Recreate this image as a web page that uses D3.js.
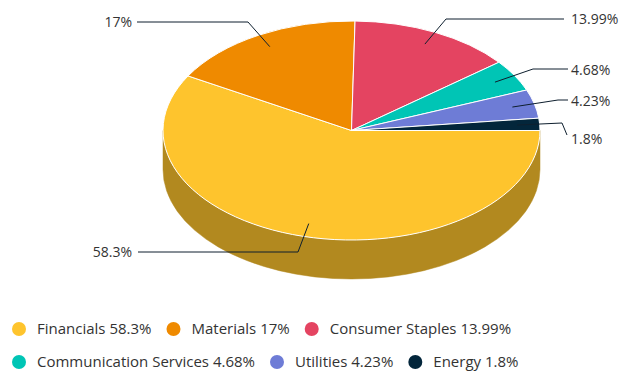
<!DOCTYPE html>
<html>
<head>
<meta charset="utf-8">
<script src="https://cdn.jsdelivr.net/npm/d3@7"></script>
<style>
    body { margin: 0; background: #ffffff; }
    svg { display: block; font-family: "Open Sans", "Noto Sans", sans-serif; }
</style>
</head>
<body>
<svg id="chart" width="621" height="371"></svg>
<script>
const sectors = ["Financials", "Materials", "Consumer Staples", "Communication Services", "Utilities", "Energy"];
const shares = [58.3, 17, 13.99, 4.68, 4.23, 1.8];
const labelTexts = ["58.3%", "17%", "13.99%", "4.68%", "4.23%", "1.8%"];
const topColors = ["#fec42d", "#ef8a00", "#e44461", "#00c5b5", "#6e7cd6", "#03263b"];

// label placement (text centre y, bend point of the connector, line end next to the text)
const labelLayout = [
    { side: "left", y: 252, bend: [298, 252], end: [138, 252] },
    { side: "left", y: 22, bend: [248, 22], end: [137, 22] },
    { side: "right", y: 19, bend: [446, 19], end: [564, 19] },
    { side: "right", y: 70, bend: [533, 69], end: [568, 69] },
    { side: "right", y: 101, bend: [558, 100], end: [568, 100] },
    { side: "right", y: 139, bend: [562, 123], end: [567, 135] }
];

const svg = d3.select("#chart");
const cx = 351.5, cy = 130.5, rx = 188.5, ry = 109.5, depth = 39;

const data = sectors.map(function (s, i) {
    return { name: s, value: shares[i], label: labelTexts[i], color: topColors[i], layout: labelLayout[i] };
});

const pie = d3.pie()
    .sort(null)
    .value(function (d) { return d.value; })
    .startAngle(Math.PI / 2)
    .endAngle(Math.PI / 2 + Math.PI * 2);
const arcs = pie(data);

function pt(a, k, dy) {
    k = k || 1;
    dy = dy || 0;
    return [cx + rx * k * Math.sin(a), cy - ry * k * Math.cos(a) + dy];
}

function topPath(d) {
    const p0 = pt(d.startAngle), p1 = pt(d.endAngle);
    const large = d.endAngle - d.startAngle > Math.PI ? 1 : 0;
    return `M${cx},${cy}L${p0[0]},${p0[1]}A${rx},${ry} 0 ${large} 1 ${p1[0]},${p1[1]}Z`;
}

function sidePath(d) {
    const s = Math.max(d.startAngle, Math.PI / 2);
    const e = Math.min(d.endAngle, Math.PI * 1.5);
    if (e <= s) return null;
    const a = pt(s), b = pt(e), c = pt(e, 1, depth), f = pt(s, 1, depth);
    return `M${a[0]},${a[1]}A${rx},${ry} 0 0 1 ${b[0]},${b[1]}L${c[0]},${c[1]}A${rx},${ry} 0 0 0 ${f[0]},${f[1]}Z`;
}

const pieGroup = svg.append("g");

pieGroup.selectAll(".side")
    .data(arcs.filter(function (d) { return sidePath(d) !== null; }))
    .join("path")
    .attr("class", "side")
    .attr("d", sidePath)
    .attr("fill", function (d) { return d3.color(d.data.color).darker(1); })
    .attr("stroke", function (d) { return d3.color(d.data.color).darker(1); })
    .attr("stroke-width", 0.5);

pieGroup.selectAll(".top")
    .data(arcs)
    .join("path")
    .attr("class", "top")
    .attr("d", topPath)
    .attr("fill", function (d) { return d.data.color; })
    .attr("stroke", "#ffffff")
    .attr("stroke-width", 1)
    .attr("stroke-linejoin", "round");

// connectors and data labels
const labelGroup = svg.append("g");
arcs.forEach(function (d) {
    const mid = (d.startAngle + d.endAngle) / 2;
    const anchor = pt(mid, 0.88);
    const lay = d.data.layout;
    labelGroup.append("path")
        .attr("d", d3.line()([anchor, lay.bend, lay.end]))
        .attr("fill", "none")
        .attr("stroke", "#0e1f2e")
        .attr("stroke-width", 1);
    labelGroup.append("text")
        .attr("x", lay.side === "left" ? 132 : 571)
        .attr("y", lay.y)
        .attr("dy", "0.35em")
        .attr("text-anchor", lay.side === "left" ? "end" : "start")
        .attr("font-size", "14px")
        .attr("fill", "#333333")
        .text(d.data.label);
});

// legend
const legend = svg.append("g");
let lx = 12, ly = 329;
data.forEach(function (d) {
    const item = legend.append("g");
    item.append("circle")
        .attr("cx", 7)
        .attr("cy", 0)
        .attr("r", 7)
        .attr("fill", d.color);
    const t = item.append("text")
        .attr("x", 25)
        .attr("y", 0)
        .attr("dy", "0.35em")
        .attr("font-size", "15px")
        .attr("fill", "#333333")
        .text(d.name + " " + d.label);
    const w = 25 + t.node().getComputedTextLength();
    if (lx + w > 610) {
        lx = 12;
        ly += 33;
    }
    item.attr("transform", `translate(${lx}, ${ly})`);
    lx += w + 15;
});
</script>
</body>
</html>
